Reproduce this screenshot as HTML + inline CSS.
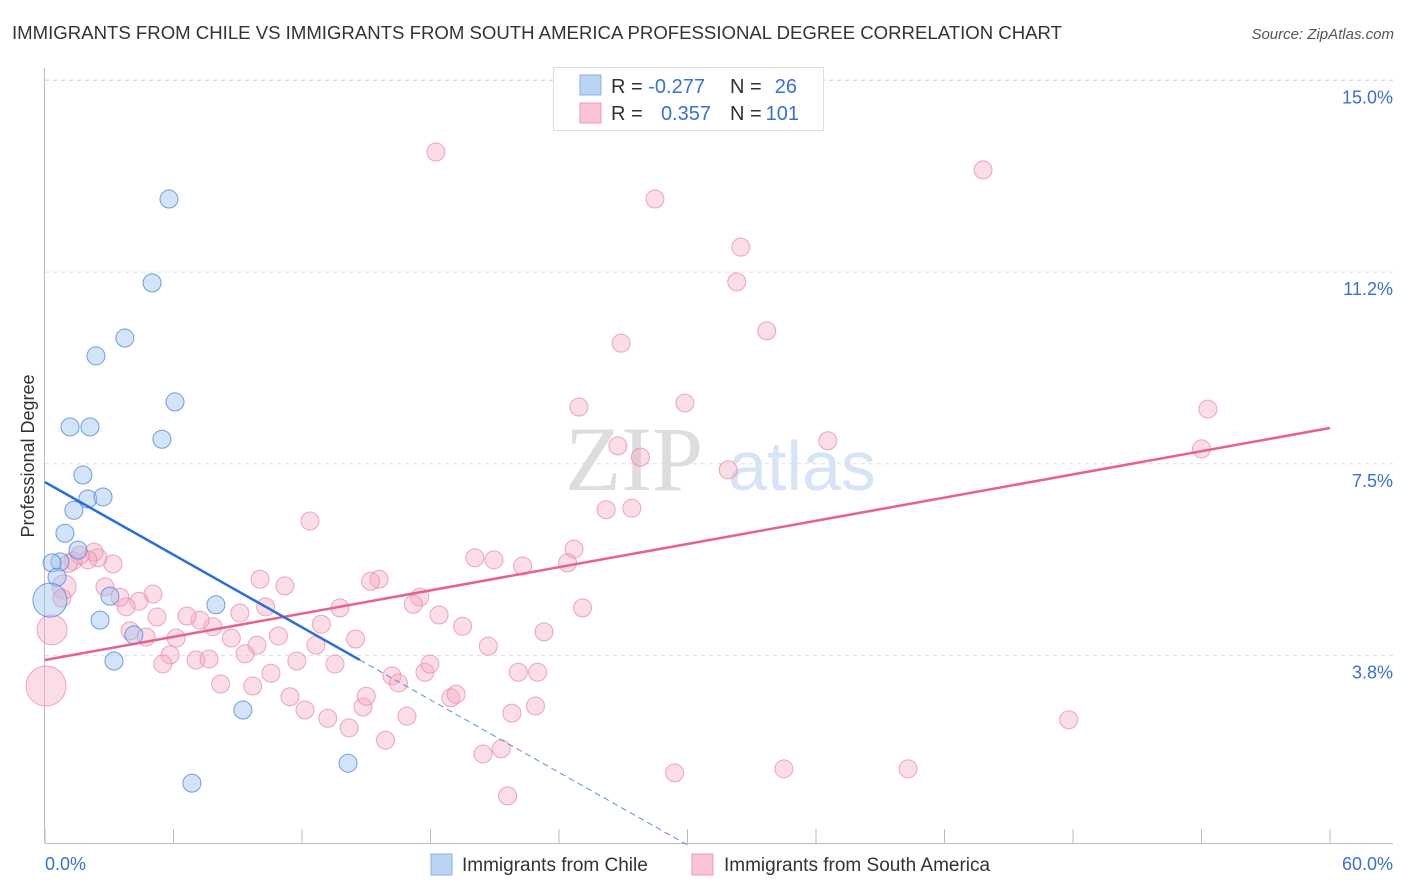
<!DOCTYPE html>
<html><head><meta charset="utf-8"><style>
body{margin:0;background:#fff;font-family:"Liberation Sans",Arial,sans-serif;}
svg{display:block}
</style></head><body>
<svg id="chart" width="1406" height="892" viewBox="0 0 1406 892" xmlns="http://www.w3.org/2000/svg">
<text x="12" y="39" font-size="18" fill="#333" textLength="1050" lengthAdjust="spacingAndGlyphs">IMMIGRANTS FROM CHILE VS IMMIGRANTS FROM SOUTH AMERICA PROFESSIONAL DEGREE CORRELATION CHART</text>
<text x="1394" y="39" font-size="15" fill="#555" font-style="italic" text-anchor="end">Source: ZipAtlas.com</text>
<g>
<text x="634" y="490" font-size="92" font-family="Liberation Serif,serif" fill="#ddd" text-anchor="middle">ZIP</text>
<text x="802" y="490" font-size="70" fill="#d6e4f5" text-anchor="middle">atlas</text>
</g>
<g id="grid"></g>
<g id="axes"></g>
<g id="points"></g>
<g id="trends"></g>
<text transform="translate(34,456) rotate(-90)" font-size="18" fill="#333" text-anchor="middle">Professional Degree</text>
<g>
<rect x="553.5" y="67.5" width="270" height="63" fill="#fff" stroke="#ddd"/>
<rect x="580" y="75" width="21" height="20" fill="#bcd4f4" stroke="#8ab0e6"/>
<rect x="580" y="103" width="21" height="20" fill="#f9c4d4" stroke="#ee98b4"/>
<text x="611" y="93" font-size="20" fill="#333">R = <tspan fill="#3a6fd8">-0.277</tspan></text>
<text x="730" y="93" font-size="20" fill="#333">N = </text><text x="797" y="93" font-size="20" fill="#3a6fd8" text-anchor="end">26</text>
<text x="611" y="120" font-size="20" fill="#333">R = </text><text x="711" y="120" font-size="20" fill="#3a6fd8" text-anchor="end">0.357</text>
<text x="730" y="120" font-size="20" fill="#333">N = </text><text x="799" y="120" font-size="20" fill="#3a6fd8" text-anchor="end">101</text>
</g>
<g>
<rect x="431" y="854" width="21" height="21" fill="#bcd4f4" stroke="#8ab0e6"/>
<text x="462" y="871" font-size="19" fill="#333">Immigrants from Chile</text>
<rect x="692" y="854" width="21" height="21" fill="#f9c4d4" stroke="#ee98b4"/>
<text x="724" y="871" font-size="19" fill="#333">Immigrants from South America</text>
</g>
</svg>
<script>
const yTicks=[3.75,7.5,11.25,15];
const yTickLabels=["3.8%","7.5%","11.2%","15.0%"];
const xTicks=[0,6,12,18,24,30,36,42,48,54,60];
const xEndLabels=["0.0%","60.0%"];
const chileX=[5.79,5.0,3.73,2.38,6.07,1.17,2.1,5.46,1.77,2.0,2.71,1.35,0.93,1.54,0.70,0.33,0.56,0.23,3.03,7.98,2.57,4.15,3.22,9.24,14.15,6.86];
const chileY=[12.68,11.04,9.96,9.61,8.71,8.22,8.22,7.98,7.28,6.81,6.85,6.59,6.14,5.81,5.58,5.56,5.28,4.83,4.91,4.74,4.44,4.15,3.64,2.68,1.64,1.25];
const chileR=[9,9,9,9,9,9,9,9,9,9,9,9,9,9,9,9,9,17,9,9,9,9,9,9,9,9];
const saX=[18.25,43.8,28.48,32.49,32.3,33.7,26.9,24.93,29.88,54.3,36.55,26.75,27.8,54.0,31.9,26.2,27.4,12.37,24.7,20.07,20.96,24.4,22.3,15.6,15.2,10.04,11.2,17.5,17.2,25.1,13.77,18.4,19.5,23.3,14.5,12.9,12.65,20.7,10.3,9.1,10.9,9.9,9.34,8.7,7.84,7.24,6.63,5.04,4.39,3.79,3.5,2.8,3.17,2.47,2.29,2.0,1.31,1.63,0.89,0.79,0.33,0.05,3.97,4.72,5.23,6.12,5.84,5.5,7.05,7.66,8.2,9.7,10.55,11.76,11.44,12.14,13.54,13.2,14.2,14.85,15.0,15.9,16.2,16.5,16.9,17.74,17.97,18.95,19.2,20.45,21.3,21.6,21.8,22.1,23.0,22.9,29.4,34.5,40.3,47.8,1.1];
const saY=[13.6,13.25,12.68,11.74,11.06,10.1,9.86,8.61,8.69,8.57,7.95,7.85,7.63,7.79,7.38,6.6,6.63,6.38,5.83,5.66,5.62,5.56,5.5,5.24,5.2,5.24,5.11,4.89,4.75,4.68,4.68,4.54,4.32,4.21,4.07,4.36,3.95,3.93,4.7,4.58,4.13,3.95,3.78,4.09,4.31,4.44,4.52,4.95,4.81,4.7,4.89,5.09,5.54,5.66,5.77,5.62,5.6,5.71,5.09,4.87,4.25,3.15,4.23,4.11,4.5,4.09,3.76,3.58,3.66,3.68,3.19,3.15,3.4,3.64,2.94,2.68,3.58,2.52,2.33,2.74,2.95,2.09,3.35,3.21,2.56,3.42,3.58,2.92,2.99,1.82,1.92,1.0,2.62,3.42,3.42,2.76,1.45,1.53,1.53,2.49,5.55];
const chileTrend=[[0,7.14],[14.7,3.66]];
const chileTrendExt=[[14.7,3.66],[30,0.04]];
const saTrend=[[0,3.66],[60,8.2]];
const NS="http://www.w3.org/2000/svg";
const X0=45,X1=1330,Y0=847,PX=51.1;
function xs(v){return X0+(X1-X0)*v/60;}
function ys(v){return Y0-v*PX;}
function mk(tag,attrs,parent){const e=document.createElementNS(NS,tag);for(const k in attrs)e.setAttribute(k,attrs[k]);parent.appendChild(e);return e;}
const grid=document.getElementById('grid'),axes=document.getElementById('axes'),pts=document.getElementById('points'),tr=document.getElementById('trends');
yTicks.forEach((t,i)=>{
 const l=mk('line',{x1:45,x2:1393,y1:ys(t),y2:ys(t),stroke:'#ddd','stroke-dasharray':'4,4'},grid);
 
 
 const tx=mk('text',{x:1393,y:ys(t)+23,'font-size':18,fill:'#3a6fd8','text-anchor':'end'},axes);
 tx.textContent=yTickLabels[i];
 
 
});
const topLine=mk('line',{x1:45,x2:1393,y1:80,y2:80,stroke:'#ddd','stroke-dasharray':'4,4'},grid);


const ya=mk('line',{x1:44.5,x2:44.5,y1:68,y2:843,stroke:'#bbb'},axes);


const xa=mk('line',{x1:45,x2:1393,y1:843.5,y2:843.5,stroke:'#bbb'},axes);


xTicks.forEach(t=>{
 const l=mk('line',{x1:xs(t),x2:xs(t),y1:829,y2:843,stroke:'#bbb'},axes);
 
 
});
const xl0=mk('text',{x:45,y:870,'font-size':18,fill:'#3a6fd8'},axes);xl0.textContent=xEndLabels[0];


const xl1=mk('text',{x:1393,y:870,'font-size':18,fill:'#3a6fd8','text-anchor':'end'},axes);xl1.textContent=xEndLabels[1];


saX.forEach((v,i)=>{
 const r=i===61?20:(i===60?15:(i===58?12:9));
 const c=mk('circle',{cx:xs(v),cy:ys(saY[i]),r:r,fill:'rgba(246,170,195,0.4)',stroke:'rgba(232,130,165,0.7)','stroke-width':1},pts);
 
 
});
chileX.forEach((v,i)=>{
 const c=mk('circle',{cx:xs(v),cy:ys(chileY[i]),r:chileR[i],fill:'rgba(160,195,240,0.45)',stroke:'rgba(80,135,215,0.8)','stroke-width':1},pts);
 
 
});
const l1=mk('line',{x1:xs(saTrend[0][0]),y1:ys(saTrend[0][1]),x2:xs(saTrend[1][0]),y2:ys(saTrend[1][1]),stroke:'#e8608f','stroke-width':2.5},tr);


const l2=mk('line',{x1:xs(chileTrend[0][0]),y1:ys(chileTrend[0][1]),x2:xs(chileTrend[1][0]),y2:ys(chileTrend[1][1]),stroke:'#2a6fd6','stroke-width':2.5},tr);


const l3=mk('line',{x1:xs(chileTrendExt[0][0]),y1:ys(chileTrendExt[0][1]),x2:xs(chileTrendExt[1][0]),y2:ys(chileTrendExt[1][1]),stroke:'#5a8fdc','stroke-width':1,'stroke-dasharray':'6,4'},tr);


</script>
</body></html>
